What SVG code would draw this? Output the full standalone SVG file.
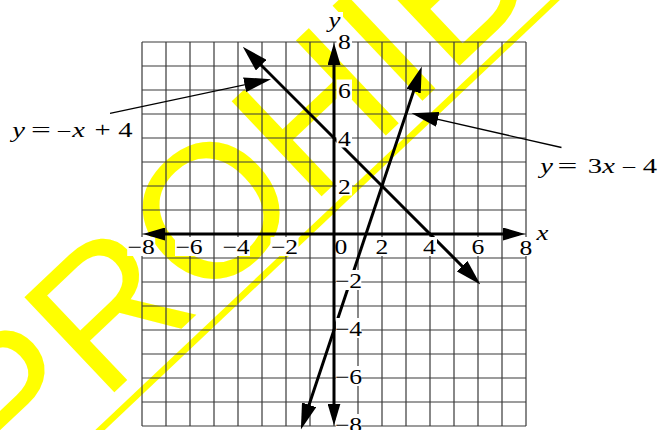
<svg xmlns="http://www.w3.org/2000/svg" width="658" height="430" viewBox="0 0 658 430">
<style>
.wm{font-family:"Liberation Sans",Arial,sans-serif;font-size:190px;fill:#ffff00}
.wl{stroke:#ffff00;stroke-width:6.5;fill:none}
.grid{stroke:#3a3a3a;stroke-width:1.2;fill:none}
.fn{stroke:#000;stroke-width:3;fill:none}
.ax{stroke:#000;stroke-width:3;fill:none}
.ld{stroke:#000;stroke-width:1.3;fill:none}
.lb{font-family:"Liberation Serif","Times New Roman",serif;font-size:21px;fill:#000;text-anchor:middle}
.eq{font-family:"Liberation Serif","Times New Roman",serif;font-size:22px;fill:#000;text-anchor:middle}
.it{font-style:italic}
.bg{fill:#fff}
</style>
<defs>
<marker id="mF" markerUnits="userSpaceOnUse" viewBox="0 0 26 15" markerWidth="26" markerHeight="15" refX="19" refY="7.5" orient="auto-start-reverse"><path d="M0,0 L26,7.5 L0,15 Z" fill="#000"/></marker>
<marker id="mA" markerUnits="userSpaceOnUse" viewBox="0 0 22 13" markerWidth="22" markerHeight="13" refX="16" refY="6.5" orient="auto-start-reverse"><path d="M0,0 L22,6.5 L0,13 Z" fill="#000"/></marker>
<marker id="mL" markerUnits="userSpaceOnUse" viewBox="0 0 27 15" markerWidth="27" markerHeight="15" refX="20" refY="7.5" orient="auto-start-reverse"><path d="M0,0 L27,7.5 L0,15 Z" fill="#000"/></marker>
</defs>

<g id="watermark">
<text class="wm" transform="translate(11,490) rotate(-43.4)">PROHIBITED</text>
<line class="wl" x1="85" y1="444.2" x2="565" y2="-9.4"/>
</g>

<g id="grid">
<path class="grid" d="M142,42V426M166,42V426M190,42V426M214,42V426M238,42V426M262,42V426M286,42V426M310,42V426M334,42V426M358,42V426M382,42V426M406,42V426M430,42V426M454,42V426M478,42V426M502,42V426M526,42V426
M142,42H526M142,66H526M142,90H526M142,114H526M142,138H526M142,162H526M142,186H526M142,210H526M142,234H526M142,258H526M142,282H526M142,306H526M142,330H526M142,354H526M142,378H526M142,402H526M142,426H526"/>
</g>

<g id="connectors">
<line id="line-neg-x-plus-4" class="fn" x1="247.75" y1="51.75" x2="475.45" y2="279.45" marker-start="url(#mF)" marker-end="url(#mF)"/>
<line id="line-3x-minus-4" class="fn" x1="303.1" y1="422.8" x2="419.6" y2="73.1" marker-start="url(#mF)" marker-end="url(#mF)"/>
<line id="leader-1" class="ld" x1="110" y1="113.3" x2="264.2" y2="80.6" marker-end="url(#mL)"/>
<line id="leader-2" class="ld" x1="561.5" y1="147.5" x2="418.3" y2="114.9" marker-end="url(#mL)"/>
</g>

<g id="x-labels">
<rect class="bg" x="127.2" y="237" width="28" height="19"/><text class="lb" transform="translate(141.2,253.5) scale(1.22,1)">−8</text>
<rect class="bg" x="175" y="237" width="28" height="19"/><text class="lb" transform="translate(189,253.5) scale(1.22,1)">−6</text>
<rect class="bg" x="222" y="237" width="28" height="19"/><text class="lb" transform="translate(236,253.5) scale(1.22,1)">−4</text>
<rect class="bg" x="270.5" y="237" width="28" height="19"/><text class="lb" transform="translate(284.5,253.5) scale(1.22,1)">−2</text>
<rect class="bg" x="334" y="237" width="15" height="19"/><text class="lb" transform="translate(341,253.5) scale(1.22,1)">0</text>
<rect class="bg" x="374.5" y="237" width="15" height="19"/><text class="lb" transform="translate(382,253.5) scale(1.22,1)">2</text>
<rect class="bg" x="422" y="237" width="15" height="19"/><text class="lb" transform="translate(429.5,253.5) scale(1.22,1)">4</text>
<rect class="bg" x="470.5" y="237" width="15" height="19"/><text class="lb" transform="translate(478,253.5) scale(1.22,1)">6</text>
<rect class="bg" x="518.5" y="237" width="15" height="19"/><text class="lb" transform="translate(526,254.5) scale(1.22,1)">8</text>
</g>

<g id="y-labels">
<rect class="bg" x="336.5" y="31" width="15.5" height="20"/><text class="lb" transform="translate(344.5,49) scale(1.22,1)">8</text>
<rect class="bg" x="336.5" y="79.5" width="15.5" height="20"/><text class="lb" transform="translate(344.5,97.5) scale(1.22,1)">6</text>
<rect class="bg" x="336.5" y="127.5" width="15.5" height="20"/><text class="lb" transform="translate(344.5,145.5) scale(1.22,1)">4</text>
<rect class="bg" x="336.5" y="175.5" width="15.5" height="20"/><text class="lb" transform="translate(344.5,193.5) scale(1.22,1)">2</text>
<rect class="bg" x="335.8" y="270" width="25.5" height="20"/><text class="lb" transform="translate(348.5,288) scale(1.22,1)">−2</text>
<rect class="bg" x="335.8" y="318" width="25.5" height="20"/><text class="lb" transform="translate(348.5,336) scale(1.22,1)">−4</text>
<rect class="bg" x="335.8" y="366" width="25.5" height="20"/><text class="lb" transform="translate(348.5,384) scale(1.22,1)">−6</text>
<rect class="bg" x="335.8" y="414" width="25.5" height="20"/><text class="lb" transform="translate(348.5,432) scale(1.22,1)">−8</text>
</g>

<g id="axis-names">
<rect class="bg" x="326" y="12" width="17" height="22"/>
<text class="eq it" transform="translate(334.5,27) scale(1.22,1)">y</text>
<text class="eq it" transform="translate(542.5,240) scale(1.22,1)">x</text>
</g>

<g id="label-neg-x-plus-4">
<text class="eq it" transform="translate(18.5,137) scale(1.3,1)">y</text>
<text class="eq" transform="translate(41,137) scale(1.6,1)">=</text>
<text class="eq" transform="translate(64,137) scale(1.1,1)">–</text>
<text class="eq it" transform="translate(78.5,137) scale(1.3,1)">x</text>
<text class="eq" transform="translate(102.5,137) scale(1.3,1)">+</text>
<text class="eq" transform="translate(125.5,137) scale(1.3,1)">4</text>
</g>

<g id="label-3x-minus-4">
<text class="eq it" transform="translate(546.5,173.3) scale(1.3,1)">y</text>
<text class="eq" transform="translate(567.5,173.3) scale(1.6,1)">=</text>
<text class="eq" transform="translate(595,173.3) scale(1.3,1)">3</text>
<text class="eq it" transform="translate(608.5,173.3) scale(1.3,1)">x</text>
<text class="eq" transform="translate(629,173.3) scale(1.1,1)">–</text>
<text class="eq" transform="translate(650,173.3) scale(1.3,1)">4</text>
</g>

<g id="axes">
<line id="x-axis" class="ax" x1="149" y1="234" x2="519" y2="234" marker-start="url(#mA)" marker-end="url(#mA)"/>
<line id="y-axis" class="ax" x1="334" y1="49" x2="334" y2="419.5" marker-start="url(#mA)" marker-end="url(#mA)"/>
</g>
</svg>
